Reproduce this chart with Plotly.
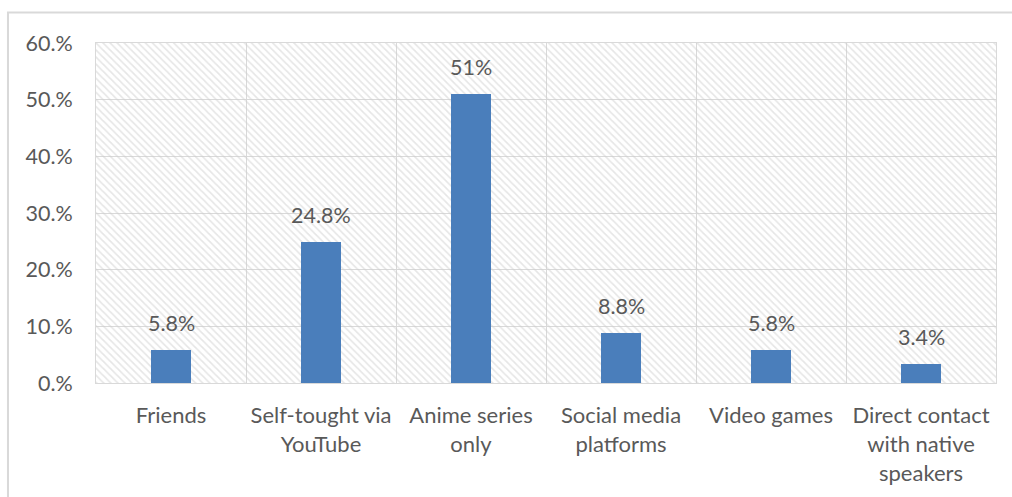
import plotly.graph_objects as go

# Survey: main source of learning
categories = [
    "Friends",
    "Self-tought via<br>YouTube",
    "Anime series<br>only",
    "Social media<br>platforms",
    "Video games",
    "Direct contact<br>with native<br>speakers",
]
values = [5.8, 24.8, 51, 8.8, 5.8, 3.4]
value_labels = ["5.8%", "24.8%", "51%", "8.8%", "5.8%", "3.4%"]

y_ticks = [0, 10, 20, 30, 40, 50, 60]
y_tick_labels = ["0.%", "10.%", "20.%", "30.%", "40.%", "50.%", "60.%"]
y_max = 60

FONT = "Lato"
TEXT_COLOR = "#595959"
GRID_COLOR = "#d9d9d9"
HATCH_COLOR = "#cecece"
BAR_COLOR = "#4a7ebb"

fig = go.Figure()

# hatched plot background: one full-width bar on the hidden base x axis,
# so the category bars (on the overlaying axis) are drawn above it
fig.add_trace(go.Bar(
    x=[0.5], y=[y_max], width=[1], xaxis="x", yaxis="y",
    marker=dict(
        color="rgba(0,0,0,0)",
        line=dict(width=0),
        pattern=dict(shape="\\", size=5, solidity=0.34,
                     fgcolor=HATCH_COLOR, bgcolor="rgba(0,0,0,0)"),
    ),
    hoverinfo="skip", showlegend=False,
))

fig.add_trace(go.Bar(
    x=categories, y=values, width=0.273, xaxis="x2", yaxis="y",
    marker=dict(color=BAR_COLOR, line=dict(width=0)),
    showlegend=False,
))

for cat, val, lab in zip(categories, values, value_labels):
    fig.add_annotation(
        x=cat, y=val, xref="x2", yref="y", text=lab, showarrow=False,
        yanchor="bottom", yshift=12,
        font=dict(family=FONT, size=21.5, color=TEXT_COLOR),
    )

# outer chart frame
fig.add_shape(
    type="rect", xref="paper", yref="paper",
    x0=-0.0978, x1=1.2, y0=-0.6, y1=1.0897,
    line=dict(color=GRID_COLOR, width=2), fillcolor="rgba(0,0,0,0)",
    layer="below",
)

fig.update_layout(
    width=1012, height=497,
    margin=dict(l=96, r=16, t=43, b=114),
    paper_bgcolor="white", plot_bgcolor="white",
    font=dict(family=FONT, size=21.5, color=TEXT_COLOR),
    bargap=0,
    xaxis=dict(range=[0, 1], visible=False, fixedrange=True),
    xaxis2=dict(
        type="category", overlaying="x", anchor="y", side="bottom",
        tickson="boundaries",
        showgrid=True, gridcolor=GRID_COLOR, gridwidth=1,
        showline=True, linecolor=GRID_COLOR, mirror=True,
        ticks="", ticklabelstandoff=13,
        tickfont=dict(family=FONT, size=22, color=TEXT_COLOR),
        fixedrange=True,
    ),
    yaxis=dict(
        range=[0, y_max], tickvals=y_ticks, ticktext=y_tick_labels,
        showgrid=True, gridcolor=GRID_COLOR, gridwidth=1,
        showline=True, linecolor=GRID_COLOR, mirror=True,
        zeroline=False, ticks="", ticklabelstandoff=18,
        tickfont=dict(family=FONT, size=21.5, color=TEXT_COLOR),
    ),
)

fig.write_html("out.html")
